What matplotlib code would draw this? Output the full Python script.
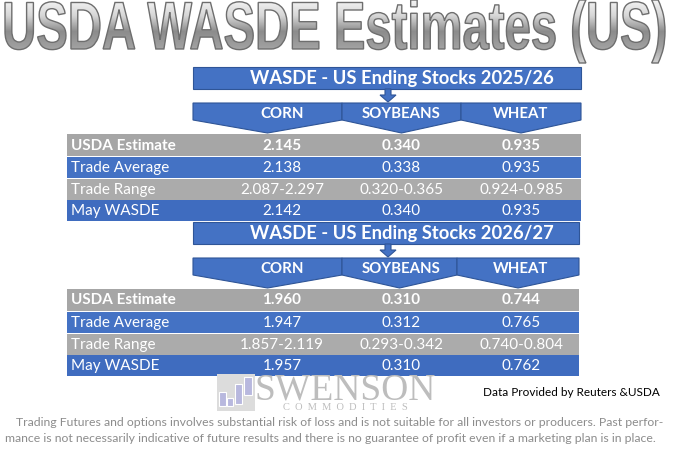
import matplotlib
matplotlib.use('Agg')
import matplotlib.pyplot as plt
import numpy as np
from matplotlib.patches import Rectangle, Polygon, PathPatch
from matplotlib.textpath import TextPath
from matplotlib.font_manager import FontProperties
from matplotlib.colors import LinearSegmentedColormap
from matplotlib.transforms import Affine2D

# data
commodities = ['CORN', 'SOYBEANS', 'WHEAT']
row_labels = ['USDA Estimate', 'Trade Average', 'Trade Range', 'May WASDE']

usda_2526 = [2.145, 0.340, 0.935]
avg_2526 = [2.138, 0.338, 0.935]
range_lo_2526 = [2.087, 0.320, 0.924]
range_hi_2526 = [2.297, 0.365, 0.985]
may_2526 = [2.142, 0.340, 0.935]

usda_2627 = [1.960, 0.310, 0.744]
avg_2627 = [1.947, 0.312, 0.765]
range_lo_2627 = [1.857, 0.293, 0.740]
range_hi_2627 = [2.119, 0.342, 0.804]
may_2627 = [1.957, 0.310, 0.762]

BLUE = '#4472C4'
BLUE2 = '#3F6CBF'
DARK = '#2F5597'
GRAY = '#A6A6A6'
GRAY2 = '#ABABAB'
LAB_FONT = ['Lato', 'DejaVu Sans']

fig = plt.figure(figsize=(6.8, 4.63), dpi=100)
ax = fig.add_axes([0, 0, 1, 1])
ax.set_xlim(0, 680)
ax.set_ylim(463, 0)
ax.axis('off')


def fmt(v):
    return '{:.3f}'.format(v)


def draw_block(title, y0, bounds, rows):
    # header bar
    ax.add_patch(Rectangle((bounds[0], y0), bounds[-1] - bounds[0], 22,
                           fc=BLUE, ec=DARK, lw=0.8))
    ax.text(402, y0 + 11.5, title, ha='center', va='center', color='white',
            fontsize=13.2, fontweight='bold', family=LAB_FONT)
    # little arrow
    ax.add_patch(Polygon([(385, y0 + 22), (391, y0 + 22), (391, y0 + 28),
                          (396, y0 + 28), (388, y0 + 35), (380, y0 + 28),
                          (385, y0 + 28)], closed=True, fc=BLUE, ec=DARK, lw=0.8))
    top = y0 + 36
    # table rows
    ty = top + 31
    heights = [22, 21, 21, 21]
    colors = [GRAY, BLUE, GRAY2, BLUE2]
    text_x = [282, 401, 521]
    for i, (lab, vals) in enumerate(zip(row_labels, rows)):
        h = heights[i]
        ax.add_patch(Rectangle((67, ty), bounds[-1] - 67, h, fc=colors[i], ec='none'))
        wt = 'bold' if i == 0 else 'normal'
        ax.text(71, ty + h / 2 + 0.5, lab, ha='left', va='center', color='white',
                fontsize=11, fontweight=wt, family=LAB_FONT)
        for x, v in zip(text_x, vals):
            ax.text(x, ty + h / 2 + 0.5, v, ha='center', va='center', color='white',
                    fontsize=11, fontweight=wt, family=LAB_FONT)
        ty += h + 0.8
    # chevrons
    for k in range(3):
        a, b = bounds[k], bounds[k + 1]
        m = (a + b) / 2
        ax.add_patch(Polygon([(a, top), (b, top), (b, top + 17), (m, top + 30),
                              (a, top + 17)], closed=True, fc=BLUE, ec=DARK, lw=0.8))
        ax.text(text_x[k], top + 11, commodities[k], ha='center', va='center',
                color='white', fontsize=10.8, fontweight='bold', family=LAB_FONT)


rows_2526 = [[fmt(v) for v in usda_2526], [fmt(v) for v in avg_2526],
             [fmt(a) + '-' + fmt(b) for a, b in zip(range_lo_2526, range_hi_2526)],
             [fmt(v) for v in may_2526]]
rows_2627 = [[fmt(v) for v in usda_2627], [fmt(v) for v in avg_2627],
             [fmt(a) + '-' + fmt(b) for a, b in zip(range_lo_2627, range_hi_2627)],
             [fmt(v) for v in may_2627]]

draw_block('WASDE - US Ending Stocks 2025/26', 67, [193, 342, 461, 581], rows_2526)
draw_block('WASDE - US Ending Stocks 2026/27', 222, [193, 342, 457, 579], rows_2627)

# big metallic title
tp = TextPath((0, 0), 'USDA WASDE Estimates (US)', size=100,
              prop=FontProperties(family='Liberation Sans', weight='bold'))
ext = tp.get_extents()
sx = (665 - 5) / ext.width
sy = (63 - 0) / ext.height
tr = Affine2D().translate(-ext.x0, -ext.y1).scale(sx, -sy).translate(5, 0)
tpath = tr.transform_path(tp)
cmap = LinearSegmentedColormap.from_list('metal', ['#F4F4F4', '#D6D6D6', '#8C8C8C', '#A0A0A0', '#D2D2D2'])
grad = np.linspace(0, 1, 256).reshape(-1, 1)
im = ax.imshow(grad, cmap=cmap, extent=[5, 665, 63, 0], aspect='auto', zorder=3)
ax.add_patch(PathPatch(tpath, fc='none', ec='#6E6E6E', lw=1.0, zorder=4))
im.set_clip_path(PathPatch(tpath, transform=ax.transData))
ax.set_xlim(0, 680)
ax.set_ylim(463, 0)

# logo
ax.add_patch(Rectangle((217, 374), 38, 37, fc='#DCDCDC', ec='none'))
for x0, y0, w, h in [(219, 392, 7, 14), (227, 398, 6, 8), (235, 384, 7, 20), (244, 377, 8, 18)]:
    ax.add_patch(Rectangle((x0, y0), w, h, fc='#B8B8DE', ec='white', lw=0.8))
ax.text(345, 399, 'SWENSON', ha='center', va='baseline', color='#BDBDBD',
        fontsize=27, family='Liberation Serif')
ax.text(345, 409.5, 'C  O  M  M  O  D  I  T  I  E  S', ha='center', va='baseline',
        color='#BDBDBD', fontsize=7.5, family='Liberation Serif')

ax.text(571, 393, 'Data Provided by Reuters &USDA', ha='center', va='center',
        color='black', fontsize=8.5, family=LAB_FONT)

ax.text(340, 422, 'Trading Futures and options involves substantial risk of loss and is not suitable '
        'for all investors or producers. Past perfor-', ha='center', va='center',
        color='#8C8C8C', fontsize=8.8, family=LAB_FONT)
ax.text(330, 439, 'mance is not necessarily indicative of future results and there is no guarantee '
        'of profit even if a marketing plan is in place.', ha='center', va='center',
        color='#8C8C8C', fontsize=8.8, family=LAB_FONT)

fig.savefig('out.png', dpi=100)
